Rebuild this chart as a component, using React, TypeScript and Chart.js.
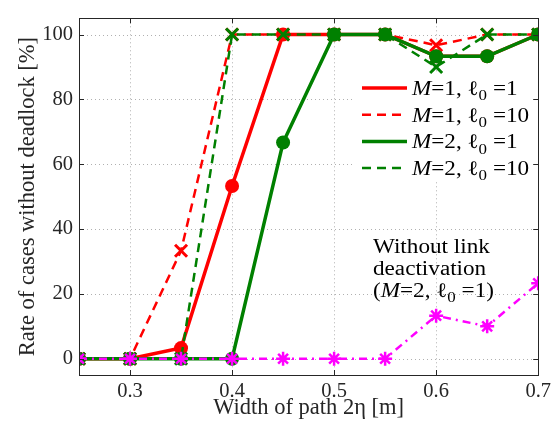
import React, { useEffect, useRef } from "react";
import { Chart, registerables } from "chart.js";
Chart.register(...registerables);

const widths = [0.25, 0.3, 0.35, 0.4, 0.45, 0.5, 0.55, 0.6, 0.65, 0.7];
const m1l1 = [0, 0, 3.3, 53.3, 100, 100, 100, 93.3, 93.3, 100];
const m1l10 = [0, 0, 33.3, 100, 100, 100, 100, 96.7, 100, 100];
const m2l1 = [0, 0, 0, 0, 66.7, 100, 100, 93.3, 93.3, 100];
const m2l10 = [0, 0, 0, 100, 100, 100, 100, 90, 100, 100];
const noDeact = [0, 0, 0, 0, 0, 0, 0, 13.3, 10, 23.3];
const xTicks = [0.3, 0.4, 0.5, 0.6, 0.7];
const yTicks = [0, 20, 40, 60, 80, 100];
const xTitle = "Width of path 2η [m]";
const yTitle = "Rate of cases without deadlock [%]";
const noteLines = ["Without link", "deactivation"];

const RED = "#ff0000";
const GREEN = "#008000";
const MAG = "#ff00ff";
const AX = "#262626";
const FONT = '"Liberation Serif", "DejaVu Serif", serif';

type Part = { t: string; it?: boolean; sub?: boolean };

function drawParts(ctx: CanvasRenderingContext2D, x: number, y: number, parts: Part[], size: number, sx: number) {
  ctx.save();
  ctx.translate(x, y);
  ctx.scale(sx, 1);
  let cx = 0;
  ctx.textBaseline = "alphabetic";
  ctx.textAlign = "left";
  for (const p of parts) {
    const s = p.sub ? Math.round(size * 0.72) : size;
    ctx.font = `${p.it ? "italic " : ""}${s}px ${FONT}`;
    ctx.fillText(p.t, cx, p.sub ? size * 0.25 : 0);
    cx += ctx.measureText(p.t).width;
  }
  ctx.restore();
}

function label(m: number, l: number): Part[] {
  return [
    { t: "M", it: true },
    { t: `=${m}, ` },
    { t: "ℓ" },
    { t: "0", sub: true },
    { t: ` =${l}` },
  ];
}

const mk = (arr: number[]) => arr.map((v, i) => ({ x: widths[i], y: v }));

const legendItems = [
  { color: RED, dash: [] as number[], parts: label(1, 1), w: 3.5 },
  { color: RED, dash: [9, 6], parts: label(1, 10), w: 2.5 },
  { color: GREEN, dash: [] as number[], parts: label(2, 1), w: 3.5 },
  { color: GREEN, dash: [9, 6], parts: label(2, 10), w: 2.5 },
];

const decor = {
  id: "decor",
  beforeDatasetsDraw(chart: any) {
    const { ctx, chartArea: a, scales } = chart;
    const xs = scales.x, ys = scales.y;
    ctx.save();
    ctx.strokeStyle = "#b0b0b0";
    ctx.lineWidth = 1;
    ctx.setLineDash([1, 3]);
    for (const v of xTicks) {
      const px = Math.round(xs.getPixelForValue(v)) + 0.5;
      if (px > a.right - 2) continue;
      ctx.beginPath();
      ctx.moveTo(px, a.top);
      ctx.lineTo(px, a.bottom);
      ctx.stroke();
    }
    for (const v of yTicks) {
      const py = Math.round(ys.getPixelForValue(v)) + 0.5;
      ctx.beginPath();
      ctx.moveTo(a.left, py);
      ctx.lineTo(a.right, py);
      ctx.stroke();
    }
    ctx.setLineDash([]);
    ctx.fillStyle = "#ffffff";
    ctx.fillRect(355, 74, 182, 108);
    ctx.restore();
  },
  afterDatasetsDraw(chart: any) {
    const { ctx, chartArea: a, scales } = chart;
    const xs = scales.x, ys = scales.y;
    ctx.save();
    ctx.strokeStyle = AX;
    ctx.lineWidth = 1;
    ctx.strokeRect(Math.round(a.left) + 0.5, Math.round(a.top) + 0.5, Math.round(a.right - a.left), Math.round(a.bottom - a.top));
    const tl = 5;
    for (const v of xTicks) {
      const px = Math.round(xs.getPixelForValue(v)) + 0.5;
      ctx.beginPath();
      ctx.moveTo(px, a.bottom);
      ctx.lineTo(px, a.bottom - tl);
      ctx.moveTo(px, a.top);
      ctx.lineTo(px, a.top + tl);
      ctx.stroke();
    }
    for (const v of yTicks) {
      const py = Math.round(ys.getPixelForValue(v)) + 0.5;
      ctx.beginPath();
      ctx.moveTo(a.left, py);
      ctx.lineTo(a.left + tl, py);
      ctx.moveTo(a.right, py);
      ctx.lineTo(a.right - tl, py);
      ctx.stroke();
    }
    let ly = 88;
    for (const it of legendItems) {
      ctx.strokeStyle = it.color;
      ctx.lineWidth = it.w;
      ctx.setLineDash(it.dash);
      ctx.beginPath();
      ctx.moveTo(362, ly);
      ctx.lineTo(407, ly);
      ctx.stroke();
      ctx.setLineDash([]);
      ctx.fillStyle = "#000000";
      drawParts(ctx, 412, ly + 7, it.parts, 20.5, 1.13);
      ly += 26.7;
    }
    ctx.fillStyle = "#000000";
    drawParts(ctx, 373, 253, [{ t: noteLines[0] }], 20.5, 1.13);
    drawParts(ctx, 373, 275, [{ t: noteLines[1] }], 20.5, 1.13);
    drawParts(ctx, 373, 297, [{ t: "(" }, ...label(2, 1), { t: ")" }], 20.5, 1.13);
    ctx.restore();
  },
};

export default function App() {
  const ref = useRef<HTMLCanvasElement | null>(null);
  useEffect(() => {
    if (!ref.current) return;
    const tickFont = { family: FONT, size: 20.5 };
    const titleFont = { family: FONT, size: 22.5 };
    const chart = new Chart(ref.current, {
      type: "line",
      data: {
        datasets: [
          {
            label: "M=1, l0=1",
            data: mk(m1l1),
            borderColor: RED,
            backgroundColor: RED,
            borderWidth: 3.5,
            pointStyle: "circle",
            pointRadius: 7,
            pointBorderWidth: 0,
            order: 5,
          },
          {
            label: "M=1, l0=10",
            data: mk(m1l10),
            borderColor: RED,
            backgroundColor: RED,
            borderWidth: 2.5,
            borderDash: [9, 6],
            pointStyle: "crossRot",
            pointRadius: 8.5,
            pointBorderWidth: 3,
            order: 4,
          },
          {
            label: "M=2, l0=1",
            data: mk(m2l1),
            borderColor: GREEN,
            backgroundColor: GREEN,
            borderWidth: 3.5,
            pointStyle: "circle",
            pointRadius: 7,
            pointBorderWidth: 0,
            order: 3,
          },
          {
            label: "M=2, l0=10",
            data: mk(m2l10),
            borderColor: GREEN,
            backgroundColor: GREEN,
            borderWidth: 2.5,
            borderDash: [9, 6],
            pointStyle: "crossRot",
            pointRadius: 8.5,
            pointBorderWidth: 3,
            order: 2,
          },
          {
            label: "Without link deactivation",
            data: mk(noDeact),
            borderColor: MAG,
            backgroundColor: MAG,
            borderWidth: 2.5,
            borderDash: [8, 5, 2, 5],
            pointStyle: "star",
            pointRadius: 7,
            pointBorderWidth: 2.5,
            order: 1,
          },
        ],
      },
      options: {
        animation: false,
        responsive: false,
        maintainAspectRatio: false,
        layout: { padding: { top: 10, right: 13, left: 0, bottom: 0 } },
        plugins: { legend: { display: false }, tooltip: { enabled: false } },
        scales: {
          x: {
            type: "linear",
            min: 0.25,
            max: 0.7,
            grid: { display: false, drawTicks: false },
            border: { display: false },
            afterBuildTicks: (s: any) => {
              s.ticks = xTicks.map((v) => ({ value: v }));
            },
            afterFit: (s: any) => {
              s.height = 52;
            },
            ticks: {
              font: tickFont,
              color: AX,
              padding: 4,
              maxRotation: 0,
              callback: (v: any) => String(v),
            },
            title: { display: true, text: xTitle, font: titleFont, color: AX, padding: { top: 0, bottom: 5 } },
          },
          y: {
            type: "linear",
            min: -5,
            max: 105,
            grid: { display: false, drawTicks: false },
            border: { display: false },
            afterBuildTicks: (s: any) => {
              s.ticks = yTicks.map((v) => ({ value: v }));
            },
            afterFit: (s: any) => {
              s.width = 79;
            },
            ticks: { font: tickFont, color: AX, padding: 6, callback: (v: any) => String(v) },
            title: { display: true, text: yTitle, font: titleFont, color: AX, padding: { top: 15, bottom: 0 } },
          },
        },
      },
      plugins: [decor],
    });
    return () => chart.destroy();
  }, []);
  return (
    <div style={{ position: "fixed", left: 0, top: 0, width: 555, height: 427, background: "#fff" }}>
      <canvas ref={ref} width={555} height={427} style={{ width: 555, height: 427 }} />
    </div>
  );
}
